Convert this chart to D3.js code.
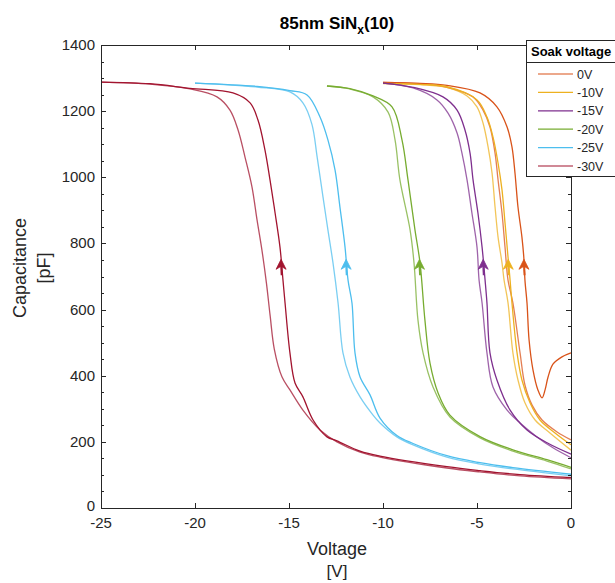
<!DOCTYPE html>
<html><head><meta charset="utf-8">
<script src="https://cdn.jsdelivr.net/npm/d3@7"></script>
<style>
html,body{margin:0;padding:0;background:#fff;}
svg{display:block;font-family:"Liberation Sans",Arial,sans-serif;}
</style></head>
<body>
<svg id="chart" width="615" height="583"></svg>
<script>
// ---------- DATA ----------
const seriesLabels = ["0V", "-10V", "-15V", "-20V", "-25V", "-30V"];
const seriesColors = ["#D95319", "#EDB120", "#7E2F8E", "#77AC30", "#4DBEEE", "#A2142F"];
const xTicks = [-25, -20, -15, -10, -5, 0];
const yTicks = [0, 200, 400, 600, 800, 1000, 1200, 1400];

// each branch: [voltage (V), capacitance (pF)]
const soak0Left = [[-10,1287],[-8.03,1283],[-6.6,1272],[-5.21,1243],[-4.68,1203],[-4.31,1152],[-4.04,1073],[-3.88,992],[-3.67,892],[-3.51,789],[-3.35,689],[-3.09,620],[-2.71,469],[-2.45,372],[-2.07,311],[-1.54,266],[-0.74,230],[0,206]];
const soak0Right = [[-10,1287],[-8.03,1284],[-6.6,1278],[-4.84,1255],[-3.94,1213],[-3.4,1152],[-3.14,1092],[-2.98,1013],[-2.82,910],[-2.61,819],[-2.5,750],[-2.45,689],[-2.34,620],[-2.23,508],[-2.02,417],[-1.76,357],[-1.54,333],[-1.38,357],[-1.22,396],[-0.96,435],[-0.48,457],[0,469]];
const soak10Left = [[-10,1283],[-8.03,1280],[-6.6,1272],[-5.53,1246],[-5.0,1213],[-4.68,1164],[-4.41,1092],[-4.2,1013],[-4.04,910],[-3.88,819],[-3.67,741],[-3.56,689],[-3.35,620],[-3.09,469],[-2.82,387],[-2.45,318],[-1.91,266],[-1.12,227],[0,175]];
const soak10Right = [[-10,1284],[-8.03,1281],[-6.6,1274],[-5.0,1234],[-4.47,1182],[-4.15,1122],[-3.88,1043],[-3.67,962],[-3.51,862],[-3.35,759],[-3.24,689],[-3.14,620],[-2.87,469],[-2.61,387],[-2.18,318],[-1.65,266],[-0.85,227],[0,191]];
const soak15Left = [[-10,1285],[-8.4,1270],[-7.13,1234],[-6.54,1194],[-6.06,1134],[-5.8,1073],[-5.53,992],[-5.27,892],[-5.0,789],[-4.89,689],[-4.73,620],[-4.47,469],[-4.15,366],[-3.4,296],[-2.71,257],[-1.81,215],[-0.96,182],[0,152]];
const soak15Right = [[-10,1285],[-8.4,1272],[-6.81,1243],[-6.06,1203],[-5.64,1143],[-5.37,1073],[-5.21,992],[-4.95,892],[-4.73,789],[-4.57,689],[-4.47,620],[-4.31,469],[-3.94,387],[-3.24,296],[-2.34,236],[-1.2,195],[0,163]];
const soak20Left = [[-12.98,1276],[-11.76,1267],[-10.53,1243],[-9.73,1197],[-9.36,1113],[-9.1,992],[-8.56,841],[-8.35,741],[-8.14,568],[-7.87,469],[-7.34,366],[-6.44,275],[-4.84,212],[-3.09,172],[-1.28,142],[0,118]];
const soak20Right = [[-12.98,1276],[-11.76,1268],[-10.53,1246],[-9.52,1213],[-8.99,1113],[-8.67,992],[-8.3,841],[-8.03,741],[-7.77,568],[-7.5,438],[-7.07,348],[-6.44,281],[-4.84,216],[-3.09,176],[-1.28,146],[0,123]];
const soak25Left = [[-20,1285],[-16.7,1273],[-14.95,1258],[-14.26,1225],[-13.78,1160],[-13.5,1060],[-13.19,940],[-12.93,841],[-12.66,741],[-12.39,620],[-12.13,469],[-11.76,396],[-11.22,336],[-10.53,281],[-10.16,257],[-9.26,215],[-8.4,191],[-6.6,154],[-4.84,133],[-3.09,118],[0,97]];
const soak25Right = [[-20,1285],[-16.7,1275],[-14.95,1262],[-14.04,1249],[-13.35,1182],[-12.93,1113],[-12.55,1022],[-12.29,910],[-12.02,789],[-11.86,689],[-11.65,620],[-11.49,469],[-11.22,396],[-10.69,342],[-10.16,272],[-9.26,219],[-8.4,195],[-6.6,158],[-4.84,137],[-3.09,122],[0,102]];
const soak30Left = [[-25,1288],[-22.4,1282],[-20.27,1267],[-18.83,1243],[-18.14,1203],[-17.71,1143],[-17.34,1061],[-16.97,971],[-16.7,871],[-16.44,780],[-16.2,680],[-16.0,580],[-15.78,480],[-15.37,396],[-14.95,357],[-14.26,296],[-13.35,236],[-12.45,200],[-11.22,169],[-10.16,154],[-6.6,121],[-4.84,109],[-2.71,97],[0,88]];
const soak30Right = [[-25,1288],[-22.4,1283],[-20.27,1269],[-17.98,1255],[-17.07,1225],[-16.65,1173],[-16.28,1083],[-16.01,992],[-15.74,892],[-15.48,789],[-15.32,689],[-15.21,620],[-14.95,469],[-14.68,378],[-14.26,336],[-13.72,266],[-12.98,215],[-12.45,203],[-11.22,172],[-10.16,157],[-6.6,125],[-4.84,113],[-2.71,101],[0,92]];
const arrowCap = 752; // capacitance at which direction arrows sit

const branches = [
  [soak0Left, soak0Right], [soak10Left, soak10Right], [soak15Left, soak15Right],
  [soak20Left, soak20Right], [soak25Left, soak25Right], [soak30Left, soak30Right]
];

// ---------- LAYOUT ----------
const svg = d3.select("#chart");
const m = {left: 101, top: 45, right: 571, bottom: 508};
const axisColor = "#262626";
const x = d3.scaleLinear().domain([-25, 0]).range([m.left, m.right]);
const y = d3.scaleLinear().domain([0, 1400]).range([m.bottom, m.top]);

svg.append("rect").attr("x",0).attr("y",0).attr("width",615).attr("height",583).attr("fill","#fff");

// title
const title = svg.append("text").attr("x", 337).attr("y", 29).attr("text-anchor","middle")
  .attr("font-size", 17).attr("font-weight","bold").attr("fill","#000");
title.append("tspan").text("85nm SiN");
title.append("tspan").attr("font-size", 12).attr("dy", 5).text("x");
title.append("tspan").attr("dy", -5).text("(10)");

// curves
const line = d3.line().x(d => x(d[0])).y(d => y(d[1])).curve(d3.curveCatmullRom.alpha(0.5));
const plot = svg.append("g");
branches.forEach((pair, i) => {
  plot.append("path").attr("d", line(pair[0])).attr("fill","none")
    .attr("stroke", seriesColors[i]).attr("stroke-width", 1.3).attr("stroke-opacity", 0.75);
  plot.append("path").attr("d", line(pair[1])).attr("fill","none")
    .attr("stroke", seriesColors[i]).attr("stroke-width", 1.3);
});

// arrows on the rising branch
function voltAt(branch, c) {
  for (let k = 0; k < branch.length - 1; k++) {
    const a = branch[k], b = branch[k+1];
    if ((a[1]-c)*(b[1]-c) <= 0 && a[1] !== b[1]) {
      return a[0] + (c - a[1]) * (b[0]-a[0]) / (b[1]-a[1]);
    }
  }
  return null;
}
branches.forEach((pair, i) => {
  const v = voltAt(pair[1], arrowCap);
  const ax = x(v), ay = y(arrowCap);
  plot.append("line").attr("x1", ax).attr("x2", ax + 0.6).attr("y1", ay + 4).attr("y2", ay + 16)
    .attr("stroke", seriesColors[i]).attr("stroke-width", 2);
  plot.append("path").attr("d", `M${ax},${ay} L${ax+5},${ay+10} L${ax},${ay+7} L${ax-5},${ay+10} Z`)
    .attr("fill", seriesColors[i]).attr("stroke", seriesColors[i]).attr("stroke-width", 0.8);
});

// axes box
const ax = svg.append("g").attr("stroke", axisColor).attr("fill","none").attr("stroke-width", 1);
ax.append("rect").attr("x", m.left + 0.5).attr("y", m.top + 0.5)
  .attr("width", m.right - m.left).attr("height", m.bottom - m.top);

// ticks (inward)
const minorY = d3.range(0, 1401, 50).filter(v => v % 200 !== 0);
xTicks.forEach(t => {
  const px = Math.round(x(t)) + 0.5;
  ax.append("line").attr("x1", px).attr("x2", px).attr("y1", m.bottom).attr("y2", m.bottom - 5);
  ax.append("line").attr("x1", px).attr("x2", px).attr("y1", m.top).attr("y2", m.top + 5);
});
yTicks.forEach(t => {
  const py = Math.round(y(t)) + 0.5;
  ax.append("line").attr("x1", m.left).attr("x2", m.left + 5).attr("y1", py).attr("y2", py);
  ax.append("line").attr("x1", m.right).attr("x2", m.right - 5).attr("y1", py).attr("y2", py);
});
minorY.forEach(t => {
  const py = Math.round(y(t)) + 0.5;
  ax.append("line").attr("x1", m.left).attr("x2", m.left + 3).attr("y1", py).attr("y2", py);
  ax.append("line").attr("x1", m.right).attr("x2", m.right - 3).attr("y1", py).attr("y2", py);
});

// tick labels
const lab = svg.append("g").attr("fill", axisColor).attr("font-size", 15);
xTicks.forEach(t => {
  lab.append("text").attr("x", x(t)).attr("y", 528).attr("text-anchor","middle").text(t);
});
yTicks.forEach(t => {
  lab.append("text").attr("x", 95).attr("y", y(t) + (t === 0 ? 3 : 5)).attr("text-anchor","end").text(t);
});

// axis titles
svg.append("text").attr("x", 337).attr("y", 555).attr("text-anchor","middle")
  .attr("font-size", 18).attr("fill", axisColor).text("Voltage");
svg.append("text").attr("x", 337).attr("y", 577).attr("text-anchor","middle")
  .attr("font-size", 17).attr("fill", axisColor).text("[V]");
svg.append("text").attr("transform","translate(26,268) rotate(-90)").attr("text-anchor","middle")
  .attr("font-size", 18).attr("fill", axisColor).text("Capacitance");
svg.append("text").attr("transform","translate(50,268) rotate(-90)").attr("text-anchor","middle")
  .attr("font-size", 18).attr("fill", axisColor).text("[pF]");

// legend
const lg = svg.append("g");
lg.append("rect").attr("x", 526.5).attr("y", 40.5).attr("width", 100).attr("height", 136)
  .attr("fill","#fff").attr("stroke", axisColor).attr("stroke-width", 1);
lg.append("line").attr("x1", 526.5).attr("x2", 626).attr("y1", 62.5).attr("y2", 62.5)
  .attr("stroke", axisColor).attr("stroke-width", 1);
lg.append("text").attr("x", 531).attr("y", 56).attr("font-size", 13).attr("font-weight","bold")
  .attr("fill","#000").text("Soak voltage");
seriesLabels.forEach((s, i) => {
  const ly = 74 + i * 18.4;
  lg.append("line").attr("x1", 538).attr("x2", 573).attr("y1", ly).attr("y2", ly)
    .attr("stroke", seriesColors[i]).attr("stroke-width", 1.2);
  lg.append("text").attr("x", 577).attr("y", ly + 4.5).attr("font-size", 12.5)
    .attr("fill", axisColor).text(s);
});
</script>
</body></html>
